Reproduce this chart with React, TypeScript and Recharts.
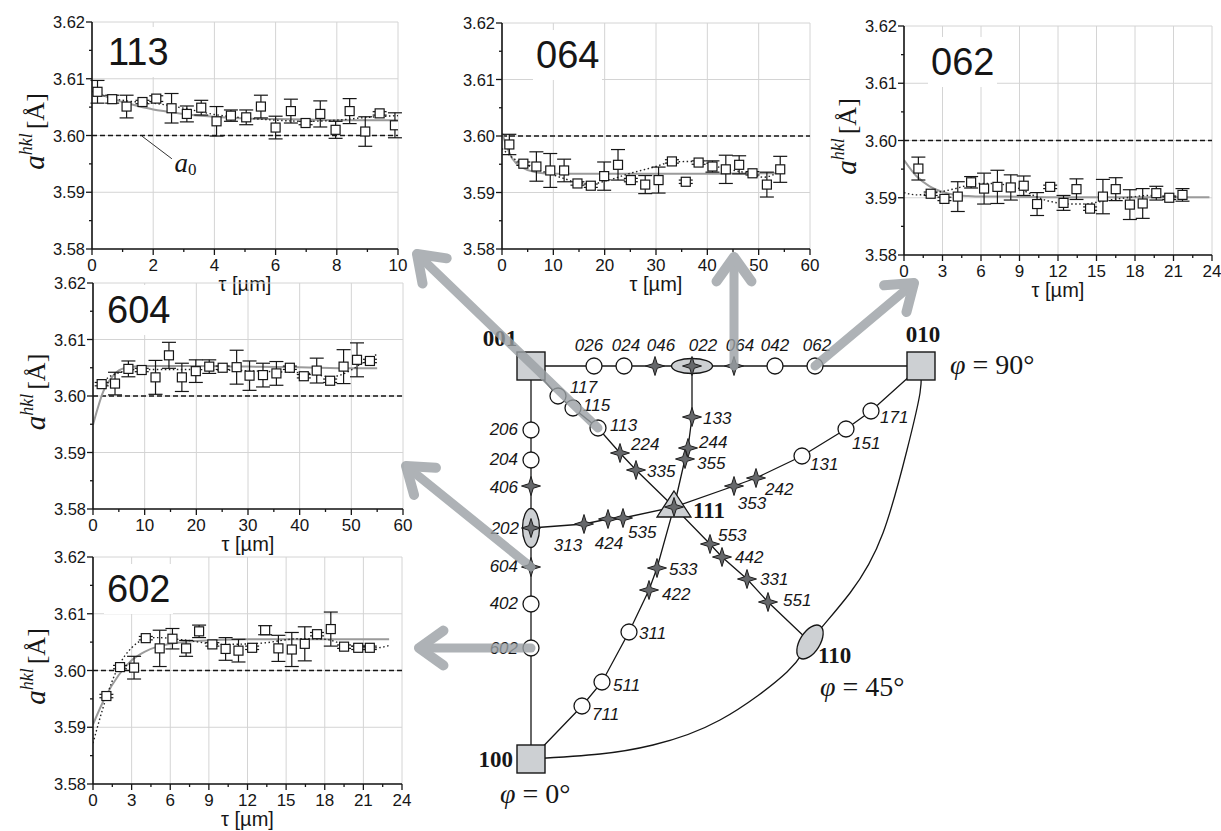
import React from "react";
import {
  ComposedChart,
  Line,
  Scatter,
  XAxis,
  YAxis,
  CartesianGrid,
  ReferenceLine,
  ErrorBar,
} from "recharts";

const W = 1221;
const H = 831;
const SANS = '"Liberation Sans", Arial, sans-serif';
const SERIF = '"Liberation Serif", "Times New Roman", serif';
const INK = "#161616";

// ---- shared axis values ----
const yMajor = [3.58, 3.59, 3.6, 3.61, 3.62];
const yMinor = [3.585, 3.595, 3.605, 3.615];
const xMajor10 = [0, 2, 4, 6, 8, 10];
const xMinor10 = [1, 3, 5, 7, 9];
const xMajor60 = [0, 10, 20, 30, 40, 50, 60];
const xMinor60 = [5, 15, 25, 35, 45, 55];
const xMajor24 = [0, 3, 6, 9, 12, 15, 18, 21, 24];
const xMinor24 = [1.5, 4.5, 7.5, 10.5, 13.5, 16.5, 19.5, 22.5];
const a0 = 3.6;

// ---- 113 ----
const t113 = [0.18, 0.66, 1.13, 1.65, 2.1, 2.6, 3.1, 3.57, 4.07, 4.54, 5.04, 5.52, 6.0, 6.5, 6.98, 7.46, 7.96, 8.42, 8.93, 9.4, 9.9];
const a113 = [3.6077, 3.6064, 3.6051, 3.6059, 3.6065, 3.6048, 3.6038, 3.6049, 3.6025, 3.6035, 3.6032, 3.6051, 3.6014, 3.6043, 3.6022, 3.6038, 3.601, 3.6043, 3.6007, 3.6039, 3.6018];
const e113 = [0.002, 0.0007, 0.002, 0.0003, 0.0005, 0.0026, 0.0014, 0.0013, 0.0026, 0.001, 0.0013, 0.002, 0.002, 0.0021, 0.0003, 0.0023, 0.0015, 0.0022, 0.0026, 0.0003, 0.0022];
const solidT113 = [0, 0.5, 1, 1.5, 2, 2.5, 3, 4, 5, 6, 7, 8, 9, 10];
const solid113 = [3.6078, 3.6068, 3.6059, 3.6052, 3.6046, 3.6042, 3.6038, 3.6033, 3.603, 3.6029, 3.6028, 3.6027, 3.6027, 3.6027];
const dotT113 = [0, 0.5, 1, 1.5, 2, 2.5, 3, 4, 5, 6, 7, 8, 9, 10];
const dot113 = [3.6078, 3.6068, 3.6062, 3.6059, 3.6057, 3.6053, 3.6048, 3.6037, 3.6031, 3.6027, 3.6025, 3.6027, 3.6032, 3.6035];

// ---- 064 ----
const t064 = [1.43, 4.16, 6.7, 9.4, 12.1, 14.7, 17.3, 19.9, 22.6, 25.1, 27.9, 30.5, 33.1, 35.8, 38.3, 41.0, 43.6, 46.2, 48.8, 51.6, 54.2];
const a064 = [3.5985, 3.5951, 3.5946, 3.5939, 3.5939, 3.5916, 3.5912, 3.5929, 3.5949, 3.5922, 3.5914, 3.5922, 3.5955, 3.5919, 3.5953, 3.5946, 3.5941, 3.5949, 3.5934, 3.5914, 3.5941];
const e064 = [0.0018, 0.0003, 0.0026, 0.003, 0.002, 0.0003, 0.0003, 0.0025, 0.0027, 0.0003, 0.0016, 0.0023, 0.0003, 0.0003, 0.0003, 0.001, 0.0025, 0.0016, 0.0003, 0.0022, 0.0023];
const solidT064 = [0, 2, 4, 6, 8, 10, 15, 20, 30, 40, 50, 54];
const solid064 = [3.6005, 3.596, 3.5944, 3.5937, 3.5934, 3.5933, 3.5933, 3.5933, 3.5933, 3.5933, 3.5934, 3.5934];
const dotT064 = [0, 2, 4, 6, 8, 10, 12, 15, 18, 20, 25, 30, 33, 38, 43, 48, 51, 54];
const dot064 = [3.5978, 3.5962, 3.5952, 3.5944, 3.5937, 3.5931, 3.5925, 3.5917, 3.5916, 3.592, 3.5934, 3.5946, 3.5954, 3.5955, 3.5943, 3.5934, 3.5927, 3.5937];

// ---- 062 ----
const t062 = [1.12, 2.08, 3.15, 4.19, 5.23, 6.24, 7.28, 8.32, 9.33, 10.37, 11.39, 12.43, 13.44, 14.5, 15.5, 16.5, 17.6, 18.6, 19.66, 20.67, 21.7];
const a062 = [3.5951, 3.5907, 3.5898, 3.5902, 3.5927, 3.5916, 3.5919, 3.5918, 3.5921, 3.5889, 3.5919, 3.5891, 3.5915, 3.5881, 3.5902, 3.5915, 3.5888, 3.589, 3.5908, 3.59, 3.5905];
const e062 = [0.002, 0.0003, 0.0003, 0.0026, 0.001, 0.0027, 0.0029, 0.0022, 0.0017, 0.002, 0.0003, 0.0013, 0.0018, 0.0003, 0.003, 0.002, 0.0026, 0.0026, 0.0012, 0.0003, 0.0011];
const solidT062 = [0, 1, 2, 3, 4, 5, 6, 8, 12, 16, 20, 23.8];
const solid062 = [3.5966, 3.5937, 3.592, 3.591, 3.5905, 3.5903, 3.5902, 3.5902, 3.5901, 3.5901, 3.5901, 3.5901];
const dotT062 = [0, 1, 2, 3, 4, 5, 6, 7, 8, 9, 10, 11, 12, 13, 14, 15, 16, 17, 18, 19, 20, 21, 22];
const dot062 = [3.5909, 3.5905, 3.5907, 3.5911, 3.5916, 3.5922, 3.5925, 3.5925, 3.5922, 3.5916, 3.5905, 3.5896, 3.5891, 3.5889, 3.5889, 3.5892, 3.5896, 3.5899, 3.5902, 3.5904, 3.5902, 3.5901, 3.5902];

// ---- 604 ----
const t604 = [1.68, 4.26, 6.85, 9.43, 12.1, 14.7, 17.2, 19.9, 22.5, 25.1, 27.8, 30.3, 32.9, 35.5, 38.1, 40.8, 43.3, 45.9, 48.5, 51.1, 53.6];
const a604 = [3.6021, 3.6022, 3.6048, 3.6046, 3.6033, 3.6072, 3.6033, 3.6044, 3.6052, 3.605, 3.6051, 3.6036, 3.6037, 3.604, 3.605, 3.6035, 3.6045, 3.6027, 3.6052, 3.6064, 3.6062];
const e604 = [0.0003, 0.002, 0.0014, 0.0003, 0.003, 0.0023, 0.0025, 0.002, 0.0012, 0.0003, 0.003, 0.0026, 0.0021, 0.0021, 0.0003, 0.0003, 0.0022, 0.0003, 0.003, 0.003, 0.0003];
const solidT604 = [0, 1, 2, 3, 4, 6, 10, 20, 30, 40, 50, 55];
const solid604 = [3.5949, 3.5981, 3.6008, 3.6025, 3.6037, 3.6049, 3.6053, 3.6053, 3.6052, 3.6051, 3.6049, 3.6049];
const dotT604 = [1.5, 3, 5, 8, 15, 25, 35, 42, 46, 50, 52, 55];
const dot604 = [3.6021, 3.6033, 3.6041, 3.6047, 3.6047, 3.6046, 3.6043, 3.604, 3.6034, 3.6046, 3.6058, 3.6074];

// ---- 602 ----
const t602 = [1.04, 2.1, 3.19, 4.1, 5.18, 6.17, 7.23, 8.24, 9.27, 10.3, 11.3, 12.36, 13.37, 14.4, 15.44, 16.45, 17.4, 18.47, 19.5, 20.6, 21.5];
const a602 = [3.5955, 3.6006, 3.6005, 3.6057, 3.6039, 3.6056, 3.6039, 3.6069, 3.6046, 3.6038, 3.6035, 3.604, 3.6071, 3.6039, 3.6037, 3.6047, 3.6064, 3.6073, 3.6042, 3.604, 3.604];
const e602 = [0.0003, 0.0003, 0.002, 0.0003, 0.0032, 0.0018, 0.0014, 0.0011, 0.0003, 0.002, 0.002, 0.0003, 0.0008, 0.0023, 0.003, 0.003, 0.0003, 0.003, 0.0003, 0.0003, 0.0003];
const solidT602 = [0, 1, 2, 3, 4, 5, 6, 8, 12, 18, 23];
const solid602 = [3.5905, 3.5955, 3.5992, 3.6018, 3.6033, 3.6042, 3.6047, 3.6052, 3.6055, 3.6055, 3.6055];
const dotT602 = [0, 1, 2, 3, 4, 5, 7, 10, 13, 16, 18, 20, 22, 23];
const dot602 = [3.5872, 3.595, 3.6008, 3.604, 3.6055, 3.6058, 3.6054, 3.6046, 3.6048, 3.6056, 3.6055, 3.6043, 3.604, 3.6044];

// ---- stereographic triangle (coordinates in page units) ----
const poles = [
  { id: "001", x: 531, y: 366, kind: "square" },
  { id: "010", x: 921, y: 366, kind: "square" },
  { id: "100", x: 531, y: 759, kind: "square" },
  { id: "110", x: 810, y: 642, kind: "ellipseD" },
  { id: "111", x: 674, y: 507, kind: "triangle" },
  { id: "022", x: 692, y: 366, kind: "ellipseH" },
  { id: "202", x: 531, y: 528, kind: "ellipseV" },
  { id: "026", x: 594, y: 366, kind: "circle" },
  { id: "024", x: 624, y: 366, kind: "circle" },
  { id: "046", x: 655, y: 366, kind: "star" },
  { id: "064", x: 734, y: 366, kind: "star" },
  { id: "042", x: 775, y: 366, kind: "circle" },
  { id: "062", x: 815, y: 366, kind: "circle" },
  { id: "206", x: 531, y: 430, kind: "circle" },
  { id: "204", x: 531, y: 460, kind: "circle" },
  { id: "406", x: 531, y: 486, kind: "star" },
  { id: "604", x: 531, y: 567, kind: "star" },
  { id: "402", x: 531, y: 604, kind: "circle" },
  { id: "602", x: 531, y: 648, kind: "circle" },
  { id: "117", x: 558, y: 396, kind: "circle" },
  { id: "115", x: 573, y: 408, kind: "circle" },
  { id: "113", x: 598, y: 428, kind: "circle" },
  { id: "224", x: 620, y: 453, kind: "star" },
  { id: "335", x: 636, y: 470, kind: "star" },
  { id: "553", x: 710, y: 544, kind: "star" },
  { id: "442", x: 722, y: 557, kind: "star" },
  { id: "331", x: 747, y: 579, kind: "star" },
  { id: "551", x: 768, y: 602, kind: "star" },
  { id: "133", x: 692, y: 417, kind: "star" },
  { id: "244", x: 688, y: 448, kind: "star" },
  { id: "355", x: 685, y: 459, kind: "star" },
  { id: "313", x: 584, y: 524, kind: "star" },
  { id: "424", x: 608, y: 519, kind: "star" },
  { id: "535", x: 623, y: 518, kind: "star" },
  { id: "353", x: 734, y: 486, kind: "star" },
  { id: "242", x: 756, y: 478, kind: "star" },
  { id: "131", x: 802, y: 456, kind: "circle" },
  { id: "151", x: 846, y: 429, kind: "circle" },
  { id: "171", x: 871, y: 411, kind: "circle" },
  { id: "533", x: 657, y: 568, kind: "star" },
  { id: "422", x: 649, y: 590, kind: "star" },
  { id: "311", x: 629, y: 632, kind: "circle" },
  { id: "511", x: 602, y: 682, kind: "circle" },
  { id: "711", x: 582, y: 706, kind: "circle" },
];

const zones = [
  ["001", "026", "024", "046", "022", "064", "042", "062", "010"],
  ["001", "206", "204", "406", "202", "604", "402", "602", "100"],
  ["001", "117", "115", "113", "224", "335", "111", "553", "442", "331", "551", "110"],
  ["022", "133", "244", "355", "111"],
  ["202", "313", "424", "535", "111", "353", "242", "131", "151", "171", "010"],
  ["111", "533", "422", "311", "511", "711", "100"],
];

const arcX = [531, 600, 653, 720, 787, 810, 850, 883, 907, 920, 921];
const arcY = [759, 754, 745, 720, 672, 642, 593, 533, 450, 393, 366];

const hklLabels = [
  { x: 589, y: 345, t: "026", anchor: "middle" },
  { x: 626, y: 345, t: "024", anchor: "middle" },
  { x: 661, y: 345, t: "046", anchor: "middle" },
  { x: 703, y: 345, t: "022", anchor: "middle" },
  { x: 740, y: 345, t: "064", anchor: "middle" },
  { x: 775, y: 345, t: "042", anchor: "middle" },
  { x: 817, y: 345, t: "062", anchor: "middle" },
  { x: 518, y: 429, t: "206", anchor: "end" },
  { x: 518, y: 459, t: "204", anchor: "end" },
  { x: 518, y: 487, t: "406", anchor: "end" },
  { x: 519, y: 528, t: "202", anchor: "end" },
  { x: 518, y: 566, t: "604", anchor: "end" },
  { x: 518, y: 603, t: "402", anchor: "end" },
  { x: 518, y: 648, t: "602", anchor: "end" },
  { x: 570, y: 387, t: "117", anchor: "start" },
  { x: 583, y: 405, t: "115", anchor: "start" },
  { x: 610, y: 425, t: "113", anchor: "start" },
  { x: 631, y: 444, t: "224", anchor: "start" },
  { x: 647, y: 471, t: "335", anchor: "start" },
  { x: 718, y: 535, t: "553", anchor: "start" },
  { x: 735, y: 557, t: "442", anchor: "start" },
  { x: 760, y: 579, t: "331", anchor: "start" },
  { x: 783, y: 600, t: "551", anchor: "start" },
  { x: 703, y: 418, t: "133", anchor: "start" },
  { x: 699, y: 442, t: "244", anchor: "start" },
  { x: 697, y: 463, t: "355", anchor: "start" },
  { x: 568, y: 545, t: "313", anchor: "middle" },
  { x: 609, y: 543, t: "424", anchor: "middle" },
  { x: 628, y: 532, t: "535", anchor: "start" },
  { x: 752, y: 503, t: "353", anchor: "middle" },
  { x: 765, y: 489, t: "242", anchor: "start" },
  { x: 810, y: 464, t: "131", anchor: "start" },
  { x: 852, y: 443, t: "151", anchor: "start" },
  { x: 880, y: 417, t: "171", anchor: "start" },
  { x: 669, y: 569, t: "533", anchor: "start" },
  { x: 662, y: 594, t: "422", anchor: "start" },
  { x: 639, y: 633, t: "311", anchor: "start" },
  { x: 613, y: 685, t: "511", anchor: "start" },
  { x: 592, y: 714, t: "711", anchor: "start" },
];

const poleLabels = [
  { x: 500, y: 338, t: "001", anchor: "middle" },
  { x: 923, y: 334, t: "010", anchor: "middle" },
  { x: 693, y: 510, t: "111", anchor: "start" },
  { x: 513, y: 759, t: "100", anchor: "end" },
  { x: 818, y: 655, t: "110", anchor: "start" },
];

const phiLabels = [
  { x: 950, y: 364, t: "90" },
  { x: 820, y: 686, t: "45" },
  { x: 500, y: 793, t: "0" },
];

// arrows from pole to its panel
const arrows = [
  { tail: [598, 428], tip: [417, 254] },
  { tail: [734, 366], tip: [734, 257] },
  { tail: [815, 366], tip: [914, 283] },
  { tail: [531, 567], tip: [406, 466] },
  { tail: [531, 648], tip: [419, 648] },
];

// ---- panel layout (page pixels) ----
const panels = [
  {
    title: "113", frame: { left: 0, top: 0, width: 412, height: 310 }, plot: { L: 92, R: 398, T: 22, B: 249 },
    titleAt: { left: 105, top: 27 }, yLabel: true, xMax: 10, xMajor: xMajor10, xMinor: xMinor10,
    t: t113, a: a113, e: e113, solidT: solidT113, solid: solid113, dotT: dotT113, dot: dot113, note: true,
  },
  {
    title: "064", frame: { left: 420, top: 0, width: 400, height: 310 }, plot: { L: 502, R: 810, T: 23, B: 249 },
    titleAt: { left: 533, top: 30 }, yLabel: false, xMax: 60, xMajor: xMajor60, xMinor: xMinor60,
    t: t064, a: a064, e: e064, solidT: solidT064, solid: solid064, dotT: dotT064, dot: dot064,
  },
  {
    title: "062", frame: { left: 812, top: 0, width: 409, height: 315 }, plot: { L: 904, R: 1212, T: 26, B: 255 },
    titleAt: { left: 928, top: 37 }, yLabel: true, xMax: 24, xMajor: xMajor24, xMinor: xMinor24,
    t: t062, a: a062, e: e062, solidT: solidT062, solid: solid062, dotT: dotT062, dot: dot062,
  },
  {
    title: "604", frame: { left: 0, top: 260, width: 415, height: 310 }, plot: { L: 93, R: 403, T: 283, B: 509 },
    titleAt: { left: 104, top: 285 }, yLabel: true, xMax: 60, xMajor: xMajor60, xMinor: xMinor60,
    t: t604, a: a604, e: e604, solidT: solidT604, solid: solid604, dotT: dotT604, dot: dot604,
  },
  {
    title: "602", frame: { left: 0, top: 530, width: 414, height: 301 }, plot: { L: 93, R: 402, T: 557, B: 784 },
    titleAt: { left: 104, top: 564 }, yLabel: true, xMax: 24, xMajor: xMajor24, xMinor: xMinor24,
    t: t602, a: a602, e: e602, solidT: solidT602, solid: solid602, dotT: dotT602, dot: dot602,
  },
];

const zip = (xs: number[], ys: number[]) => xs.map((x, i) => ({ x, y: ys[i] }));

function Panel({ p }: { p: any }) {
  const { frame, plot } = p;
  const margin = { top: plot.T - frame.top, right: frame.left + frame.width - plot.R, bottom: 0, left: 0 };
  const yWidth = plot.L - frame.left;
  const xHeight = frame.top + frame.height - plot.B;
  const pts = p.t.map((x: number, i: number) => ({ x, y: p.a[i], e: p.e[i] }));
  const xTicks = [...p.xMajor, ...p.xMinor].sort((u: number, v: number) => u - v);
  const yTicks = [...yMajor, ...yMinor].sort((u, v) => u - v);

  const xTick = (props: any) => {
    const { x, y, payload } = props;
    const major = p.xMajor.includes(payload.value);
    return (
      <g>
        <line x1={x} x2={x} y1={y} y2={y + (major ? 6 : 3)} stroke={INK} strokeWidth={1.3} />
        {major && (
          <text x={x} y={y + 16} textAnchor="middle" dominantBaseline="central" fontSize={17} fontFamily={SANS} fill={INK}>
            {payload.value}
          </text>
        )}
      </g>
    );
  };
  const yTick = (props: any) => {
    const { x, y, payload } = props;
    const major = yMajor.includes(payload.value);
    return (
      <g>
        <line x1={x - (major ? 6 : 3)} x2={x} y1={y} y2={y} stroke={INK} strokeWidth={1.3} />
        {major && (
          <text x={x - 7} y={y} textAnchor="end" dominantBaseline="central" fontSize={16.5} fontFamily={SANS} fill={INK}>
            {payload.value.toFixed(2)}
          </text>
        )}
      </g>
    );
  };
  const xLabel = (props: any) => {
    const vb = props.viewBox;
    return (
      <text x={vb.x + vb.width / 2} y={vb.y + 35} textAnchor="middle" dominantBaseline="central" fontSize={20} fontFamily={SANS} fill={INK}>
        τ [µm]
      </text>
    );
  };
  const yLabel = (props: any) => {
    const vb = props.viewBox;
    const bx = vb.x + vb.width - 48;
    const cy = vb.y + vb.height / 2 - 4;
    return (
      <text x={bx} y={cy} transform={`rotate(-90, ${bx}, ${cy})`} textAnchor="middle" fontFamily={SERIF} fill={INK} fontSize={26}>
        <tspan fontStyle="italic" fontSize={29}>a</tspan>
        <tspan fontStyle="italic" fontSize={18} dy={-12}>hkl</tspan>
        <tspan dy={12} dx={4}>[Å]</tspan>
      </text>
    );
  };
  const square = (s: any) => (
    <rect x={s.cx - 4.5} y={s.cy - 4.5} width={9} height={9} fill="#fff" stroke={INK} strokeWidth={1.2} />
  );
  const noteText = (s: any) => (
    <text x={s.cx} y={s.cy} dominantBaseline="central" fontFamily={SERIF} fill={INK}>
      <tspan fontStyle="italic" fontSize={27}>a</tspan>
      <tspan fontSize={17} dy={6}>0</tspan>
    </text>
  );

  return (
    <div style={{ position: "absolute", left: frame.left, top: frame.top, width: frame.width, height: frame.height }}>
      <ComposedChart width={frame.width} height={frame.height} margin={margin}>
        <CartesianGrid stroke="#d4d4d4" strokeWidth={1} verticalValues={p.xMajor} horizontalValues={yMajor} />
        <XAxis
          type="number"
          dataKey="x"
          domain={[0, p.xMax]}
          ticks={xTicks}
          interval={0}
          height={xHeight}
          tickSize={0}
          tickMargin={0}
          tickLine={false}
          tick={xTick}
          axisLine={{ stroke: INK, strokeWidth: 1.6 }}
          allowDataOverflow
          label={{ content: xLabel }}
        />
        <YAxis
          type="number"
          dataKey="y"
          domain={[3.58, 3.62]}
          ticks={yTicks}
          interval={0}
          width={yWidth}
          tickSize={0}
          tickMargin={0}
          tickLine={false}
          tick={yTick}
          axisLine={{ stroke: INK, strokeWidth: 1.6 }}
          allowDataOverflow
          label={p.yLabel ? { content: yLabel } : undefined}
        />
        <ReferenceLine y={a0} stroke={INK} strokeWidth={1.5} strokeDasharray="5 3" />
        {p.note && (
          <ReferenceLine
            segment={[
              { x: 1.63, y: 3.5999 },
              { x: 2.61, y: 3.5959 },
            ]}
            stroke="#333"
            strokeWidth={1}
          />
        )}
        <Line data={zip(p.solidT, p.solid)} dataKey="y" type="monotone" stroke="#9b9b9b" strokeWidth={2} dot={false} isAnimationActive={false} />
        <Line data={zip(p.dotT, p.dot)} dataKey="y" type="monotone" stroke="#222" strokeWidth={1.4} strokeDasharray="1.5 2.5" dot={false} isAnimationActive={false} />
        <Scatter data={pts} dataKey="y" shape={square} isAnimationActive={false}>
          <ErrorBar dataKey="e" direction="y" width={7} stroke={INK} strokeWidth={1.2} />
        </Scatter>
        {p.note && <Scatter data={[{ x: 2.7, y: 3.5952 }]} dataKey="y" shape={noteText} isAnimationActive={false} />}
      </ComposedChart>
    </div>
  );
}

const poleById: Record<string, { x: number; y: number }> = {};
poles.forEach((n) => (poleById[n.id] = n));

function starPath(cx: number, cy: number, R: number, r: number) {
  const d = r * 0.7071;
  return `M${cx},${cy - R} L${cx + d},${cy - d} L${cx + R},${cy} L${cx + d},${cy + d} L${cx},${cy + R} L${cx - d},${cy + d} L${cx - R},${cy} L${cx - d},${cy - d} Z`;
}

function PoleShape(s: any) {
  const { cx, cy } = s;
  const kind = s.kind ?? s.payload?.kind;
  const st = <path d={starPath(cx, cy, 9.5, 3.2)} fill="#66686b" stroke="#1e1e1e" strokeWidth={1} />;
  const pale = "#cdd0d3";
  switch (kind) {
    case "square":
      return <rect x={cx - 14} y={cy - 14} width={28} height={28} fill={pale} stroke={INK} strokeWidth={1.4} />;
    case "circle":
      return <circle cx={cx} cy={cy} r={8} fill="#fff" stroke={INK} strokeWidth={1.3} />;
    case "star":
      return st;
    case "ellipseH":
      return (
        <g>
          <ellipse cx={cx} cy={cy} rx={20.5} ry={7.5} fill={pale} stroke={INK} strokeWidth={1.3} />
          {st}
        </g>
      );
    case "ellipseV":
      return (
        <g>
          <ellipse cx={cx} cy={cy} rx={8.5} ry={19.5} fill={pale} stroke={INK} strokeWidth={1.3} />
          {st}
        </g>
      );
    case "ellipseD":
      return <ellipse cx={cx} cy={cy} rx={19} ry={10} fill={pale} stroke={INK} strokeWidth={1.3} transform={`rotate(-58, ${cx}, ${cy})`} />;
    case "triangle":
      return (
        <g>
          <path d={`M${cx},${cy - 16} L${cx + 17},${cy + 10} L${cx - 17},${cy + 10} Z`} fill={pale} stroke={INK} strokeWidth={1.3} />
          {st}
        </g>
      );
    default:
      return <g />;
  }
}

const hklText = (s: any) => (
  <text x={s.cx} y={s.cy} textAnchor={s.anchor ?? s.payload?.anchor} dominantBaseline="central" fontFamily={SANS} fontStyle="italic" fontSize={17} fill={INK}>
    {s.t ?? s.payload?.t}
  </text>
);
const poleText = (s: any) => (
  <text x={s.cx} y={s.cy} textAnchor={s.anchor ?? s.payload?.anchor} dominantBaseline="central" fontFamily={SERIF} fontWeight="bold" fontSize={23} fill={INK}>
    {s.t ?? s.payload?.t}
  </text>
);
const phiText = (s: any) => (
  <text x={s.cx} y={s.cy} dominantBaseline="central" fontFamily={SERIF} fontSize={28} fill={INK}>
    <tspan fontStyle="italic">φ</tspan>
    {` = ${s.t ?? s.payload?.t}°`}
  </text>
);

function headPoints(a: { tail: number[]; tip: number[] }) {
  const dx = a.tail[0] - a.tip[0];
  const dy = a.tail[1] - a.tip[1];
  const L = Math.hypot(dx, dy);
  const ux = dx / L;
  const uy = dy / L;
  const ang = 0.62;
  const len = 30;
  const rot = (s: number) => ({
    x: a.tip[0] + len * (ux * Math.cos(s * ang) - uy * Math.sin(s * ang)),
    y: a.tip[1] + len * (ux * Math.sin(s * ang) + uy * Math.cos(s * ang)),
  });
  return [rot(1), { x: a.tip[0], y: a.tip[1] }, rot(-1)];
}

function Overlay({ children, style }: { children: React.ReactNode; style?: React.CSSProperties }) {
  return (
    <div style={{ position: "absolute", left: 0, top: 0, width: W, height: H, pointerEvents: "none", ...style }}>
      <ComposedChart width={W} height={H} margin={{ top: 0, right: 0, bottom: 0, left: 0 }}>
        <XAxis hide type="number" dataKey="x" domain={[0, W]} allowDataOverflow />
        <YAxis hide type="number" dataKey="y" domain={[0, H]} reversed allowDataOverflow />
        {children}
      </ComposedChart>
    </div>
  );
}

export default function App() {
  return (
    <div style={{ position: "absolute", left: 0, top: 0, width: W, height: H, background: "#fff", overflow: "hidden" }}>
      {panels.map((p) => (
        <Panel key={p.title} p={p} />
      ))}
      {panels.map((p) => (
        <div
          key={"t" + p.title}
          style={{
            position: "absolute",
            left: p.titleAt.left,
            top: p.titleAt.top,
            padding: "0 3px",
            background: "#fff",
            fontFamily: SANS,
            fontSize: 38,
            lineHeight: "50px",
            color: INK,
          }}
        >
          {p.title}
        </div>
      ))}
      <Overlay>
        {zones.map((z, i) => (
          <Line
            key={"z" + i}
            data={z.map((id) => poleById[id])}
            dataKey="y"
            type="linear"
            stroke={INK}
            strokeWidth={1.3}
            dot={false}
            isAnimationActive={false}
          />
        ))}
        <Line data={zip(arcX, arcY)} dataKey="y" type="natural" stroke={INK} strokeWidth={1.3} dot={false} isAnimationActive={false} />
        <Scatter data={poles} dataKey="y" shape={PoleShape} isAnimationActive={false} />
        <Scatter data={hklLabels} dataKey="y" shape={hklText} isAnimationActive={false} />
        <Scatter data={poleLabels} dataKey="y" shape={poleText} isAnimationActive={false} />
        <Scatter data={phiLabels} dataKey="y" shape={phiText} isAnimationActive={false} />
      </Overlay>
      <Overlay style={{ opacity: 0.8 }}>
        {arrows.map((a, i) => (
          <Line
            key={"s" + i}
            data={[
              { x: a.tail[0], y: a.tail[1] },
              { x: a.tip[0], y: a.tip[1] },
            ]}
            dataKey="y"
            type="linear"
            stroke="#9aa0a4"
            strokeWidth={9}
            strokeLinecap="round"
            dot={false}
            isAnimationActive={false}
          />
        ))}
        {arrows.map((a, i) => (
          <Line
            key={"h" + i}
            data={headPoints(a)}
            dataKey="y"
            type="linear"
            stroke="#9aa0a4"
            strokeWidth={10}
            strokeLinecap="round"
            strokeLinejoin="round"
            dot={false}
            isAnimationActive={false}
          />
        ))}
      </Overlay>
    </div>
  );
}
